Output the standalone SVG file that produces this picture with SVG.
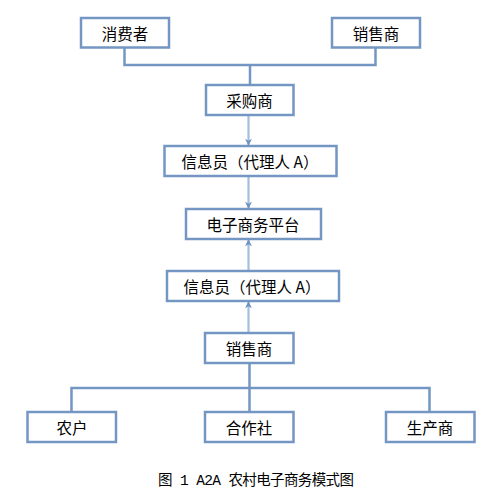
<svg xmlns="http://www.w3.org/2000/svg" width="501" height="496" viewBox="0 0 501 496">
<style>
.box{fill:#fff;stroke:#7496C2;stroke-width:2.5}
.lbl{font-family:"Noto Sans CJK SC","Liberation Sans",sans-serif;font-size:15.5px;fill:#000;text-anchor:middle;dominant-baseline:central}
.ln{fill:none;stroke:#7496C2;stroke-width:2.5}
.ar{fill:none;stroke:#A3BEE0;stroke-width:2.2}
.cap{font-family:"Liberation Mono","Noto Sans CJK SC",monospace;font-size:14.5px;fill:#000}
</style>
<defs>
<marker id="ah" viewBox="0 0 10 10" refX="9" refY="5" markerWidth="7" markerHeight="7" markerUnits="userSpaceOnUse" orient="auto">
<path d="M0,0 L10,5 L0,10 L3,5 Z" fill="#6F93C0"/>
</marker>
</defs>
<rect width="501" height="496" fill="#fff"/>
<g id="connectors">
<path class="ln" d="M124.5,47 V65 H375.5 V47 M250,65 V85"/>
<path class="ln" d="M249.5,363 V388 M71.5,411.5 V388 H429.5 V411.5 M249.5,388 V411.5"/>
<path class="ar" d="M248.5,116 V145" marker-end="url(#ah)"/>
<path class="ar" d="M248.5,177 V208" marker-end="url(#ah)"/>
<path class="ar" d="M248.5,271 V240" marker-end="url(#ah)"/>
<path class="ar" d="M248.5,332 V302" marker-end="url(#ah)"/>
</g>
<g id="n1"><rect class="box" x="81" y="18" width="88" height="29.5"/><text class="lbl" x="125" y="33">消费者</text></g>
<g id="n2"><rect class="box" x="332" y="18" width="88" height="29.5"/><text class="lbl" x="376" y="33">销售商</text></g>
<g id="n3"><rect class="box" x="206" y="85" width="87.5" height="30"/><text class="lbl" x="249.5" y="100">采购商</text></g>
<g id="n4"><rect class="box" x="164.5" y="146" width="172" height="30"/><text class="lbl" x="250" y="161">信息员（代理人 A）</text></g>
<g id="n5"><rect class="box" x="186" y="209" width="135" height="30"/><text class="lbl" x="253" y="224">电子商务平台</text></g>
<g id="n6"><rect class="box" x="167" y="271" width="172" height="30"/><text class="lbl" x="252" y="286">信息员（代理人 A）</text></g>
<g id="n7"><rect class="box" x="205" y="333" width="88.5" height="30"/><text class="lbl" x="249" y="348">销售商</text></g>
<g id="n8"><rect class="box" x="27.5" y="412" width="88.5" height="30"/><text class="lbl" x="72" y="427">农户</text></g>
<g id="n9"><rect class="box" x="205" y="412" width="88.5" height="30"/><text class="lbl" x="249" y="427">合作社</text></g>
<g id="n10"><rect class="box" x="386" y="412" width="88.5" height="30"/><text class="lbl" x="430" y="427">生产商</text></g>
<text class="cap" x="158" y="485" textLength="196" lengthAdjust="spacing">图 1 A2A 农村电子商务模式图</text>
</svg>
